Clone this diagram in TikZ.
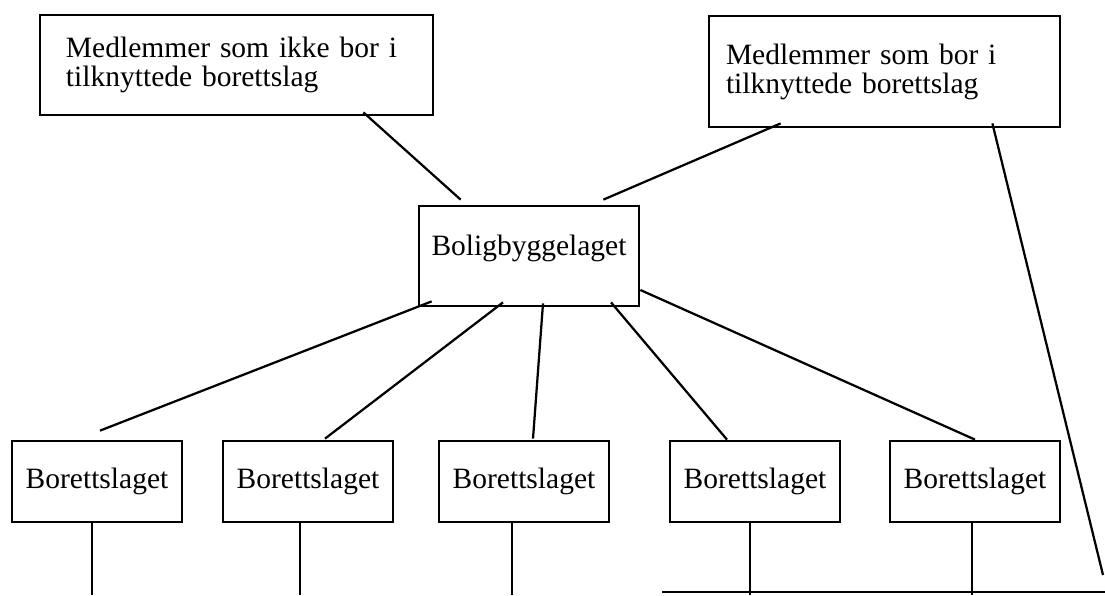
\documentclass[tikz,border=0pt]{standalone}
\usepackage{fontspec}
\setmainfont{Liberation Serif}
\usetikzlibrary{calc,positioning}

\tikzset{
 boks/.style={draw, black, line width=1.1pt, inner sep=0pt, font=\fontsize{11.8}{11.6}\selectfont},
 medlem/.style={boks, align=left},
 lag/.style={boks, minimum width=68pt, minimum height=32.4pt},
 strek/.style={black, line width=0.9pt}
}

\begin{document}
\begin{tikzpicture}[x=0.4pt, y=-0.4pt]
 \useasboundingbox (0,0) rectangle (1105,595);
 \node[medlem, minimum width=157.2pt, minimum height=40pt, text width=136.4pt] (ikke) at (236.5,65) {Medlemmer som ikke bor i\\tilknyttede borettslag};
 \node[medlem, minimum width=140.4pt, minimum height=44.4pt, text width=126.8pt] (bor) at (884.5,71.5) {Medlemmer som bor i\\tilknyttede borettslag};
 \node[boks, minimum width=88pt, minimum height=40pt, text height=8pt, text depth=8.8pt] (bolig) at (529,256) {Boligbyggelaget};
 \node[lag] (lagA) at (97,481.5) {Borettslaget};
 \node[lag] (lagB) at (308,481.5) {Borettslaget};
 \node[lag] (lagC) at (524,481.5) {Borettslaget};
 \node[lag] (lagD) at (755,481.5) {Borettslaget};
 \node[lag] (lagE) at (975,481.5) {Borettslaget};
 \coordinate (bunn) at (0,595);
 \coordinate (ende) at (1103,575);
 \coordinate (linjeV) at (662,592);
 \coordinate (linjeH) at (1105,592);

 \draw[strek] ($(ikke.south east)+(-71,-4)$) -- ($(bolig.north west)+(43,-5)$);
 \draw[strek] ($(bor.south west)+(73,-5)$) -- ($(bolig.north east)+(-37,-5)$);
 \draw[strek] ($(bor.south east)+(-69,-5)$) -- (ende);
 \draw[strek] ($(bolig.south west)+(14,-6)$) -- ($(lagA.north)+(3,-9)$);
 \draw[strek] ($(bolig.south)+(-26,-5)$) -- ($(lagB.north)+(17,-1)$);
 \draw[strek] ($(bolig.south)+(14,-4)$) -- ($(lagC.north)+(9,-1)$);
 \draw[strek] ($(bolig.south)+(82,-5)$) -- ($(lagD.north)+(-28,0)$);
 \draw[strek] ($(bolig.east)+(0,34)$) -- (lagE.north);
 \draw[strek] ([xshift=-2pt]lagA.south) -- ([xshift=-2pt]lagA.south |- bunn);
 \draw[strek] ([xshift=-3.2pt]lagB.south) -- ([xshift=-3.2pt]lagB.south |- bunn);
 \draw[strek] ([xshift=-4.8pt]lagC.south) -- ([xshift=-4.8pt]lagC.south |- bunn);
 \draw[strek] ([xshift=-2pt]lagD.south) -- ([xshift=-2pt]lagD.south |- bunn);
 \draw[strek] ([xshift=-1.2pt]lagE.south) -- ([xshift=-1.2pt]lagE.south |- bunn);
 \draw[strek] (linjeV) -- (linjeH);
\end{tikzpicture}
\end{document}
